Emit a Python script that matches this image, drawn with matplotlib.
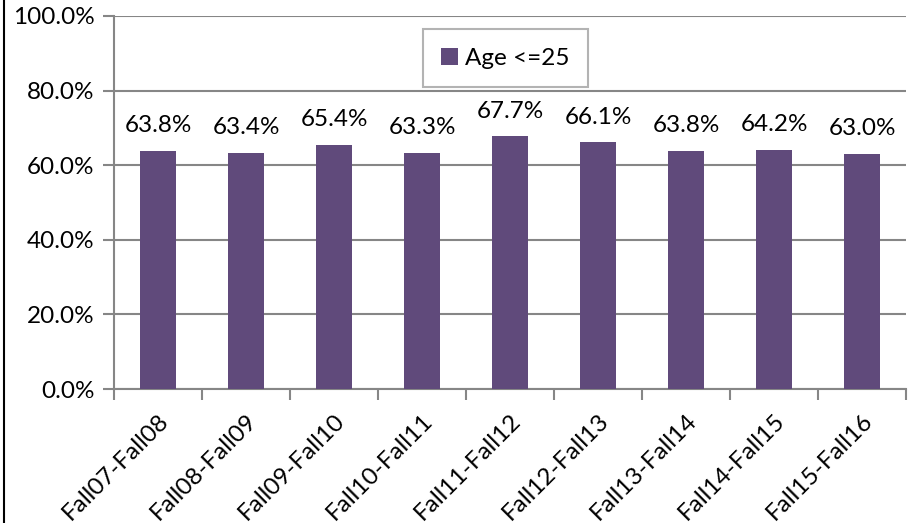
import matplotlib.pyplot as plt
from matplotlib.lines import Line2D
import numpy as np

# data
periods = ['Fall07-Fall08', 'Fall08-Fall09', 'Fall09-Fall10', 'Fall10-Fall11', 'Fall11-Fall12',
           'Fall12-Fall13', 'Fall13-Fall14', 'Fall14-Fall15', 'Fall15-Fall16']
age_le_25 = [63.8, 63.4, 65.4, 63.3, 67.7, 66.1, 63.8, 64.2, 63.0]
y_ticks = [0, 20, 40, 60, 80, 100]

plt.rcParams['font.family'] = ['Lato', 'DejaVu Sans']
fs = 17.5
grid_col = '#868686'
bar_col = '#604A7B'

fig = plt.figure(figsize=(9.09, 5.23), dpi=100)
ax = fig.add_axes([114 / 909, 1 - 389 / 523, 792 / 909, 373 / 523])

x = np.arange(len(periods))
ax.bar(x, age_le_25, width=0.4, color=bar_col, label='Age <=25', zorder=3)

for xi, v in zip(x, age_le_25):
    ax.text(xi, v + 4.0, f'{v:.1f}%', ha='center', va='bottom', fontsize=fs, color='black')

ax.set_xlim(-0.5, len(periods) - 0.5)
ax.set_ylim(0, 100)
ax.set_yticks(y_ticks)
ax.set_yticklabels([f'{t:.1f}%' for t in y_ticks], fontsize=fs)
ax.yaxis.grid(True, color=grid_col, lw=1.5, zorder=0)
ax.tick_params(axis='y', length=8, width=1.5, color=grid_col, pad=6)

ax.set_xticks(x)
ax.set_xticklabels(periods, rotation=45, ha='right', rotation_mode='anchor', fontsize=fs)
ax.tick_params(axis='x', which='major', length=0, pad=15)
ax.set_xticks(np.arange(len(periods) + 1) - 0.5, minor=True)
ax.tick_params(axis='x', which='minor', length=8, width=1.5, color=grid_col)

for s in ['top', 'right']:
    ax.spines[s].set_visible(False)
for s in ['left', 'bottom']:
    ax.spines[s].set_color(grid_col)
    ax.spines[s].set_linewidth(1.5)

leg = ax.legend(loc='center', bbox_to_anchor=(0.494, 0.887), fontsize=fs, frameon=True,
                fancybox=False, edgecolor='#A0A0A0', handlelength=0.7, handleheight=0.7,
                handletextpad=0.3, borderpad=0.75, borderaxespad=0)
leg.get_frame().set_linewidth(1.5)

fig.add_artist(Line2D([4 / 909, 4 / 909], [0, 1], color='black', lw=1.5))

fig.savefig('out.png', dpi=100)
